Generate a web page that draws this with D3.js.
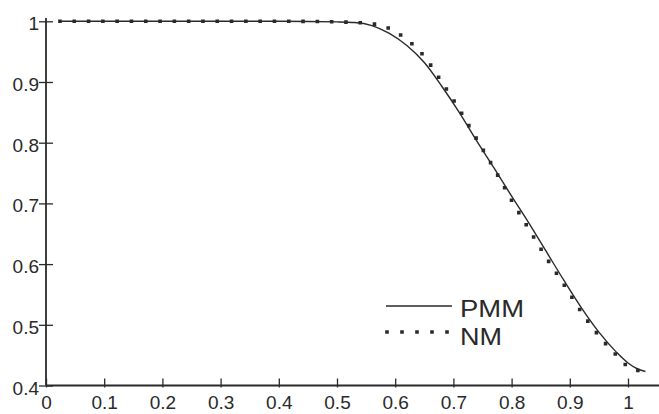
<!DOCTYPE html>
<html>
<head>
<meta charset="utf-8">
<script src="https://cdn.jsdelivr.net/npm/d3@7"></script>
<style>
  body { margin: 0; background: #fff; }
  text { font-family: "Liberation Sans", Arial, sans-serif; fill: #2a2a2a; }
</style>
</head>
<body>
<div class="canvas"></div>
<script>
// Series
const pmmX = [0.024, 0.2, 0.4, 0.5, 0.53, 0.56, 0.59, 0.62, 0.65, 0.68, 0.71, 0.74, 0.77, 0.80, 0.83, 0.86, 0.89, 0.92, 0.95, 0.98, 1.0, 1.015, 1.03];
const pmmY = [1.0, 1.0, 1.0, 0.999, 0.998, 0.993, 0.980, 0.960, 0.932, 0.893, 0.850, 0.803, 0.758, 0.712, 0.667, 0.620, 0.573, 0.528, 0.488, 0.455, 0.437, 0.428, 0.423];
const nmX = [0.024, 0.2, 0.4, 0.5, 0.53, 0.56, 0.59, 0.62, 0.65, 0.68, 0.71, 0.74, 0.77, 0.80, 0.83, 0.86, 0.89, 0.92, 0.95, 0.98, 1.0, 1.021];
const nmY = [1.0, 1.0, 1.0, 0.999, 0.998, 0.996, 0.988, 0.970, 0.942, 0.900, 0.855, 0.806, 0.757, 0.705, 0.657, 0.610, 0.566, 0.521, 0.482, 0.450, 0.431, 0.424];

const xTicks = [0, 0.1, 0.2, 0.3, 0.4, 0.5, 0.6, 0.7, 0.8, 0.9, 1];
const yTicks = [0.4, 0.5, 0.6, 0.7, 0.8, 0.9, 1];
const seriesNames = ['PMM', 'NM'];

const width = 659, height = 414;
const ink = '#2a2a2a';

const svg = d3.select('.canvas')
    .append('svg')
    .attr('width', width)
    .attr('height', height);

const x = d3.scaleLinear().domain([0, 1]).range([46, 628]);
const y = d3.scaleLinear().domain([0.4, 1]).range([385.5, 21.3]);

// axis lines
svg.append('line')
    .attr('x1', x(0)).attr('x2', width)
    .attr('y1', y(0.4)).attr('y2', y(0.4))
    .attr('stroke', ink).attr('stroke-width', 1.8);
svg.append('line')
    .attr('x1', x(0)).attr('x2', x(0))
    .attr('y1', y(0.4)).attr('y2', 18)
    .attr('stroke', ink).attr('stroke-width', 1.8);

// x axis ticks + labels
const xAxis = svg.append('g')
    .attr('transform', `translate(0, ${y(0.4)})`)
    .call(d3.axisBottom(x).tickValues(xTicks).tickFormat(d => String(d)).tickSizeOuter(0));
xAxis.select('.domain').remove();
xAxis.selectAll('.tick line')
    .attr('y1', -7).attr('y2', 2)
    .attr('stroke', ink).attr('stroke-width', 1.3);
xAxis.selectAll('.tick text')
    .attr('y', 10).attr('dy', '0.71em')
    .style('font-size', '19px').attr('fill', ink);

// y axis ticks + labels
const yAxis = svg.append('g')
    .attr('transform', `translate(${x(0)}, 0)`)
    .call(d3.axisLeft(y).tickValues(yTicks).tickFormat(d => String(d)).tickSizeOuter(0));
yAxis.select('.domain').remove();
yAxis.selectAll('.tick line')
    .attr('x1', -7).attr('x2', 7)
    .attr('stroke', ink).attr('stroke-width', 1.3);
yAxis.selectAll('.tick text')
    .attr('x', -7).attr('dy', '0.45em')
    .style('font-size', '19px').attr('fill', ink);

const line = d3.line()
    .x(d => x(d[0]))
    .y(d => y(d[1]))
    .curve(d3.curveMonotoneX);

const pmm = pmmX.map((v, i) => [v, pmmY[i]]);
const nm = nmX.map((v, i) => [v, nmY[i]]);

svg.append('path')
    .attr('d', line(pmm))
    .attr('fill', 'none')
    .attr('stroke', ink)
    .attr('stroke-width', 1.4);

svg.append('path')
    .attr('d', line(nm))
    .attr('fill', 'none')
    .attr('stroke', ink)
    .attr('stroke-width', 3.6)
    .attr('stroke-linecap', 'square')
    .attr('stroke-dasharray', '0 14.3');

// legend
const legend = svg.append('g');
legend.append('line')
    .attr('x1', 386).attr('x2', 452)
    .attr('y1', 306).attr('y2', 306)
    .attr('stroke', ink).attr('stroke-width', 1.4);
legend.append('line')
    .attr('x1', 387).attr('x2', 448)
    .attr('y1', 332).attr('y2', 332)
    .attr('stroke', ink).attr('stroke-width', 3.6)
    .attr('stroke-linecap', 'square')
    .attr('stroke-dasharray', '0 15');
legend.selectAll('text.lbl')
    .data(seriesNames)
    .enter()
    .append('text')
    .attr('class', 'lbl')
    .attr('x', 460)
    .attr('y', (d, i) => 316.5 + i * 28)
    .style('font-size', '24px')
    .attr('textLength', d => d === 'PMM' ? 64 : 42)
    .attr('lengthAdjust', 'spacingAndGlyphs')
    .text(d => d);
</script>
</body>
</html>
